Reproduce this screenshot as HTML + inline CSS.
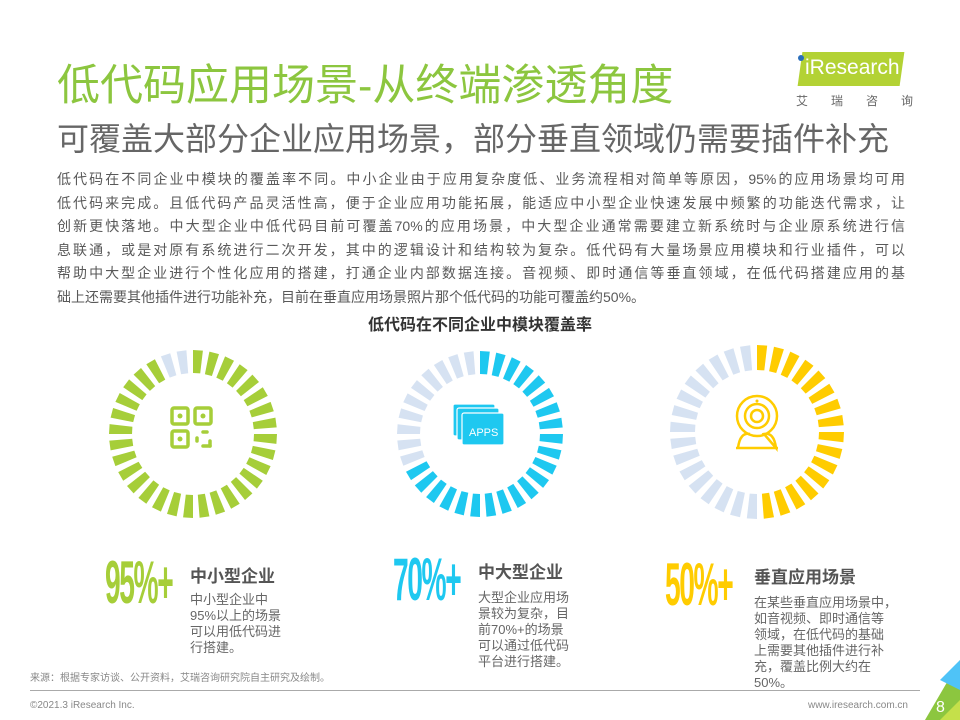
<!DOCTYPE html>
<html><head><meta charset="utf-8"><style>
body{margin:0;width:960px;height:720px;background:#fff;position:relative;overflow:hidden;font-family:"Liberation Sans","Noto Sans CJK SC",sans-serif;}
.a{position:absolute;white-space:nowrap;}
.big{font-weight:bold;font-size:60px;transform:scaleX(0.47);transform-origin:left top;letter-spacing:-3px;line-height:60px;}
.h{font-weight:bold;font-size:17px;color:#555;}
.d{font-size:13px;color:#666;line-height:16px;}
.ln{width:848px;text-align:justify;text-align-last:justify;height:23.5px;}
</style></head><body>
<div class="a" style="left:57px;top:51px;font-size:43px;color:#8cc63f;">低代码应用场景-从终端渗透角度</div>
<div class="a" style="left:57px;top:114px;font-size:32px;color:#666;">可覆盖大部分企业应用场景，部分垂直领域仍需要插件补充</div>
<div class="a" style="left:800px;top:52px;width:102px;height:34px;background:#b3d234;transform:skewX(-8deg);"></div>
<div class="a" style="left:805px;top:56px;font-size:21px;color:#fff;">iResearch</div>
<div class="a" style="left:798px;top:55px;width:6px;height:6px;border-radius:50%;background:#2a6ebb;"></div>
<div class="a" style="left:796px;top:92px;font-size:12px;color:#666;letter-spacing:23px;">艾瑞咨询</div>
<div class="a" style="left:57px;top:168px;font-size:14px;color:#595959;line-height:23.5px;">
<div class="ln">低代码在不同企业中模块的覆盖率不同。中小企业由于应用复杂度低、业务流程相对简单等原因，95%的应用场景均可用</div>
<div class="ln">低代码来完成。且低代码产品灵活性高，便于企业应用功能拓展，能适应中小型企业快速发展中频繁的功能迭代需求，让</div>
<div class="ln">创新更快落地。中大型企业中低代码目前可覆盖70%的应用场景，中大型企业通常需要建立新系统时与企业原系统进行信</div>
<div class="ln">息联通，或是对原有系统进行二次开发，其中的逻辑设计和结构较为复杂。低代码有大量场景应用模块和行业插件，可以</div>
<div class="ln">帮助中大型企业进行个性化应用的搭建，打通企业内部数据连接。音视频、即时通信等垂直领域，在低代码搭建应用的基</div>
<div>础上还需要其他插件进行功能补充，目前在垂直应用场景照片那个低代码的功能可覆盖约50%。</div>
</div>
<div class="a" style="left:0;width:960px;text-align:center;top:311px;font-size:16px;font-weight:bold;color:#333;">低代码在不同企业中模块覆盖率</div>
<svg class="a" style="left:0;top:0" width="960" height="720" id="s">
<g fill="none" stroke="#a6ce39" stroke-width="3.5" stroke-linecap="round">
<rect x="172" y="408" width="16" height="16" rx="2"/><rect x="195" y="408" width="16" height="16" rx="2"/><rect x="172" y="431" width="16" height="16" rx="2"/>
<line x1="203" y1="432" x2="207" y2="432"/><line x1="197" y1="438" x2="197" y2="441"/><line x1="203" y1="446" x2="210" y2="446"/><line x1="210" y1="441" x2="210" y2="446"/>
</g>
<g fill="#a6ce39"><circle cx="180" cy="416" r="2.5"/><circle cx="203" cy="416" r="2.5"/><circle cx="180" cy="439" r="2.5"/></g>
<g fill="#1ec8f0" stroke="#fff" stroke-width="1.2">
<rect x="453" y="404" width="42" height="32" rx="2"/><rect x="457" y="408" width="42" height="32" rx="2"/><rect x="462" y="413" width="42" height="32" rx="2"/>
</g>
<text x="469" y="436" fill="#fff" font-size="11" font-family="Liberation Sans">APPS</text>
<g fill="none" stroke="#ffcc00" stroke-width="2.5">
<circle cx="757" cy="416" r="20"/><circle cx="757" cy="416" r="12"/><circle cx="757" cy="416" r="6"/>
<path d="M738 448 Q740 432 750 434 M764 434 Q774 432 776 448 Z M736 448 H778"/>
</g>
<circle cx="757" cy="401" r="1.5" fill="#ffcc00"/>
</svg>
<div class="a big" style="left:105px;top:553px;color:#a6ce39;">95%+</div>
<div class="a big" style="left:393px;top:550px;color:#1ec8f0;">70%+</div>
<div class="a big" style="left:665px;top:555px;color:#ffcc00;">50%+</div>
<div class="a h" style="left:190px;top:562px;">中小型企业</div>
<div class="a h" style="left:478px;top:558px;">中大型企业</div>
<div class="a h" style="left:754px;top:563px;">垂直应用场景</div>
<div class="a d" style="left:190px;top:592px;">中小型企业中<br>95%以上的场景<br>可以用低代码进<br>行搭建。</div>
<div class="a d" style="left:478px;top:590px;">大型企业应用场<br>景较为复杂，目<br>前70%+的场景<br>可以通过低代码<br>平台进行搭建。</div>
<div class="a d" style="left:754px;top:595px;">在某些垂直应用场景中，<br>如音视频、即时通信等<br>领域，在低代码的基础<br>上需要其他插件进行补<br>充，覆盖比例大约在<br>50%。</div>
<div class="a" style="left:30px;top:669px;font-size:10px;color:#888;">来源：根据专家访谈、公开资料，艾瑞咨询研究院自主研究及绘制。</div>
<div class="a" style="left:30px;top:690px;width:890px;height:1px;background:#aaa;"></div>
<div class="a" style="left:30px;top:700px;font-size:10px;color:#888;">©2021.3 iResearch Inc.</div>
<div class="a" style="left:790px;top:700px;width:118px;text-align:right;font-size:10px;color:#888;">www.iresearch.com.cn</div>
<svg class="a" style="left:910px;top:660px" width="50" height="60"><polygon points="50,0 50,60 15,60" fill="#8cc63f"/><polygon points="50,0 50,30 30,20" fill="#4fc3f7"/><polygon points="50,40 50,60 30,60" fill="#c5e04a"/><text x="26" y="712" font-size="16" fill="#fff" font-family="Liberation Sans" transform="translate(0,-660)">8</text></svg>
<script>
var s=document.getElementById('s'),ns='http://www.w3.org/2000/svg';
function ring(cx,cy,ro,ri,frac,col){var N=32;for(var i=0;i<N;i++){var a0=(i/N)*2*Math.PI,a1=a0+0.6*2*Math.PI/N;
function p(r,a){return (cx+r*Math.sin(a)).toFixed(1)+','+(cy-r*Math.cos(a)).toFixed(1);}
var g=document.createElementNS(ns,'polygon');g.setAttribute('points',p(ro,a0)+' '+p(ro,a1)+' '+p(ri,a1)+' '+p(ri,a0));
g.setAttribute('fill',i<Math.round(frac*N)?col:'#d6e2f2');s.appendChild(g);}}
ring(193,434,84,61,0.94,'#a6ce39');ring(480,434,83,60,0.70,'#1ec8f0');ring(757,432,87,62,0.5,'#ffcc00');
</script>
</body></html>
